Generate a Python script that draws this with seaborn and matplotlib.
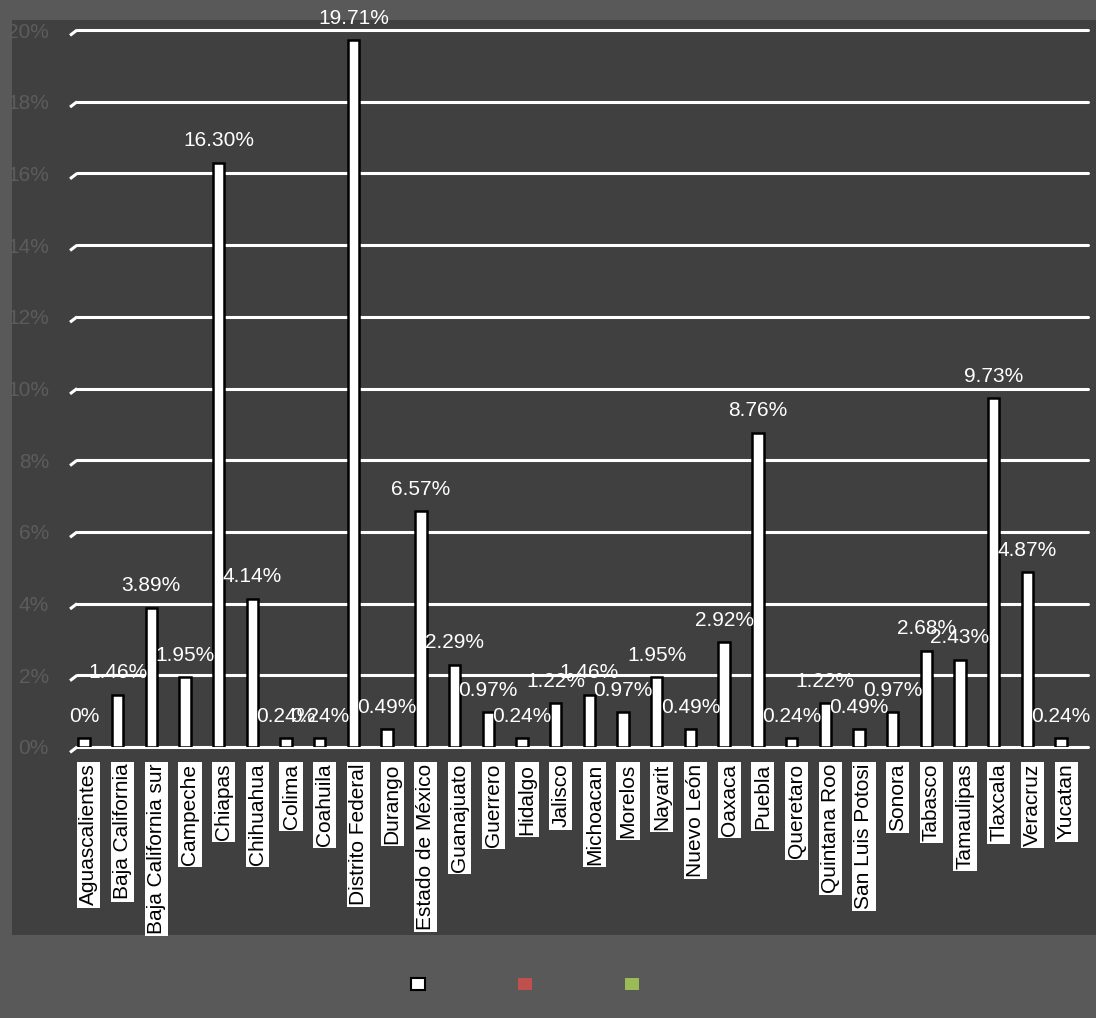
import matplotlib
matplotlib.use("Agg")
import matplotlib.pyplot as plt
import matplotlib.transforms as mtransforms
from matplotlib.patches import Patch
from matplotlib.ticker import FuncFormatter
import seaborn as sns
import pandas as pd

states = ["Aguascalientes", "Baja California", "Baja California sur", "Campeche",
          "Chiapas", "Chihuahua", "Colima", "Coahuila", "Distrito Federal", "Durango",
          "Estado de México", "Guanajuato", "Guerrero", "Hidalgo", "Jalisco",
          "Michoacan", "Morelos", "Nayarit", "Nuevo León", "Oaxaca", "Puebla",
          "Queretaro", "Quintana Roo", "San Luis Potosi", "Sonora", "Tabasco",
          "Tamaulipas", "Tlaxcala", "Veracruz", "Yucatan"]
values = [0.24, 1.46, 3.89, 1.95, 16.30, 4.14, 0.24, 0.24, 19.71, 0.49,
          6.57, 2.29, 0.97, 0.24, 1.22, 1.46, 0.97, 1.95, 0.49, 2.92,
          8.76, 0.24, 1.22, 0.49, 0.97, 2.68, 2.43, 9.73, 4.87, 0.24]
value_labels = ["0%", "1.46%", "3.89%", "1.95%", "16.30%", "4.14%", "0.24%", "0.24%",
                "19.71%", "0.49%", "6.57%", "2.29%", "0.97%", "0.24%", "1.22%",
                "1.46%", "0.97%", "1.95%", "0.49%", "2.92%", "8.76%", "0.24%",
                "1.22%", "0.49%", "0.97%", "2.68%", "2.43%", "9.73%", "4.87%", "0.24%"]
y_ticks = [0, 2, 4, 6, 8, 10, 12, 14, 16, 18, 20]

df = pd.DataFrame({"estado": states, "valor": values})

sns.set_theme(style="dark")
plt.rcParams["font.family"] = ["Liberation Sans", "DejaVu Sans"]

W, H = 1096, 1018
fig = plt.figure(figsize=(W / 100, H / 100), dpi=100, facecolor="#595959")

# plot area background
bg = fig.add_axes([12 / W, 1 - 935 / H, (W - 12) / W, (935 - 20) / H], zorder=-5)
bg.set_facecolor("#404040")
bg.set_xticks([])
bg.set_yticks([])
for s in bg.spines.values():
    s.set_visible(False)

left, right = 67, 1078
top, bottom = 30, 747
ax = fig.add_axes([left / W, 1 - bottom / H, (right - left) / W, (bottom - top) / H])
ax.set_facecolor("none")

sns.barplot(data=df, x="estado", y="valor", ax=ax, color="white", width=0.34,
            edgecolor="black", linewidth=1.8, saturation=1, zorder=3)

ax.set_ylim(0, 20)
ax.set_xlim(-0.5, len(states) - 0.5)
ax.set_yticks(y_ticks)
ax.yaxis.set_major_formatter(FuncFormatter(lambda v, p: f"{v:.0f}%"))
ax.set_xlabel("")
ax.set_ylabel("")

# gridlines (with the small 3D slant at the left end)
blend = mtransforms.blended_transform_factory(ax.transAxes, ax.transData)
for yv in y_ticks:
    ax.axhline(yv, xmin=0.01, xmax=1.01, color="white", lw=2.2, zorder=1,
               clip_on=False)
    ax.plot([0.003, 0.01], [yv - 0.15, yv], transform=blend, color="white",
            lw=2.2, zorder=1, clip_on=False, solid_capstyle="butt")
for s in ax.spines.values():
    s.set_visible(False)
ax.grid(False)

ax.tick_params(axis="y", colors="#5c5c5c", labelsize=15, length=0, pad=13)
ax.tick_params(axis="x", length=0, pad=12, labelsize=15, labelcolor="black")
ax.set_xticks(range(len(states)))
ax.set_xticklabels(states, rotation=90, va="top", ha="center")
shift = mtransforms.ScaledTranslation(5 / 100, 0, fig.dpi_scale_trans)
for lbl in ax.get_xticklabels():
    lbl.set_bbox(dict(facecolor="white", edgecolor="none", pad=1.5))
    lbl.set_transform(lbl.get_transform() + shift)

# data labels
for i, (v, t) in enumerate(zip(values, value_labels)):
    ax.annotate(t, (i, v), xytext=(0, 9), textcoords="offset points",
                ha="center", va="bottom", color="white", fontsize=15, zorder=5,
                annotation_clip=False)

# legend
handles = [Patch(facecolor="white", edgecolor="black", linewidth=1.5),
           Patch(facecolor="#C0504D", edgecolor="none"),
           Patch(facecolor="#9BBB59", edgecolor="none")]
fig.legend(handles, ["", "", ""], ncol=3, loc="center",
           bbox_to_anchor=(525 / W, 1 - 985 / H), frameon=False,
           fontsize=10, handlelength=1, handleheight=1, handletextpad=0,
           columnspacing=6.7)

fig.savefig("out.png", dpi=100, facecolor=fig.get_facecolor())
